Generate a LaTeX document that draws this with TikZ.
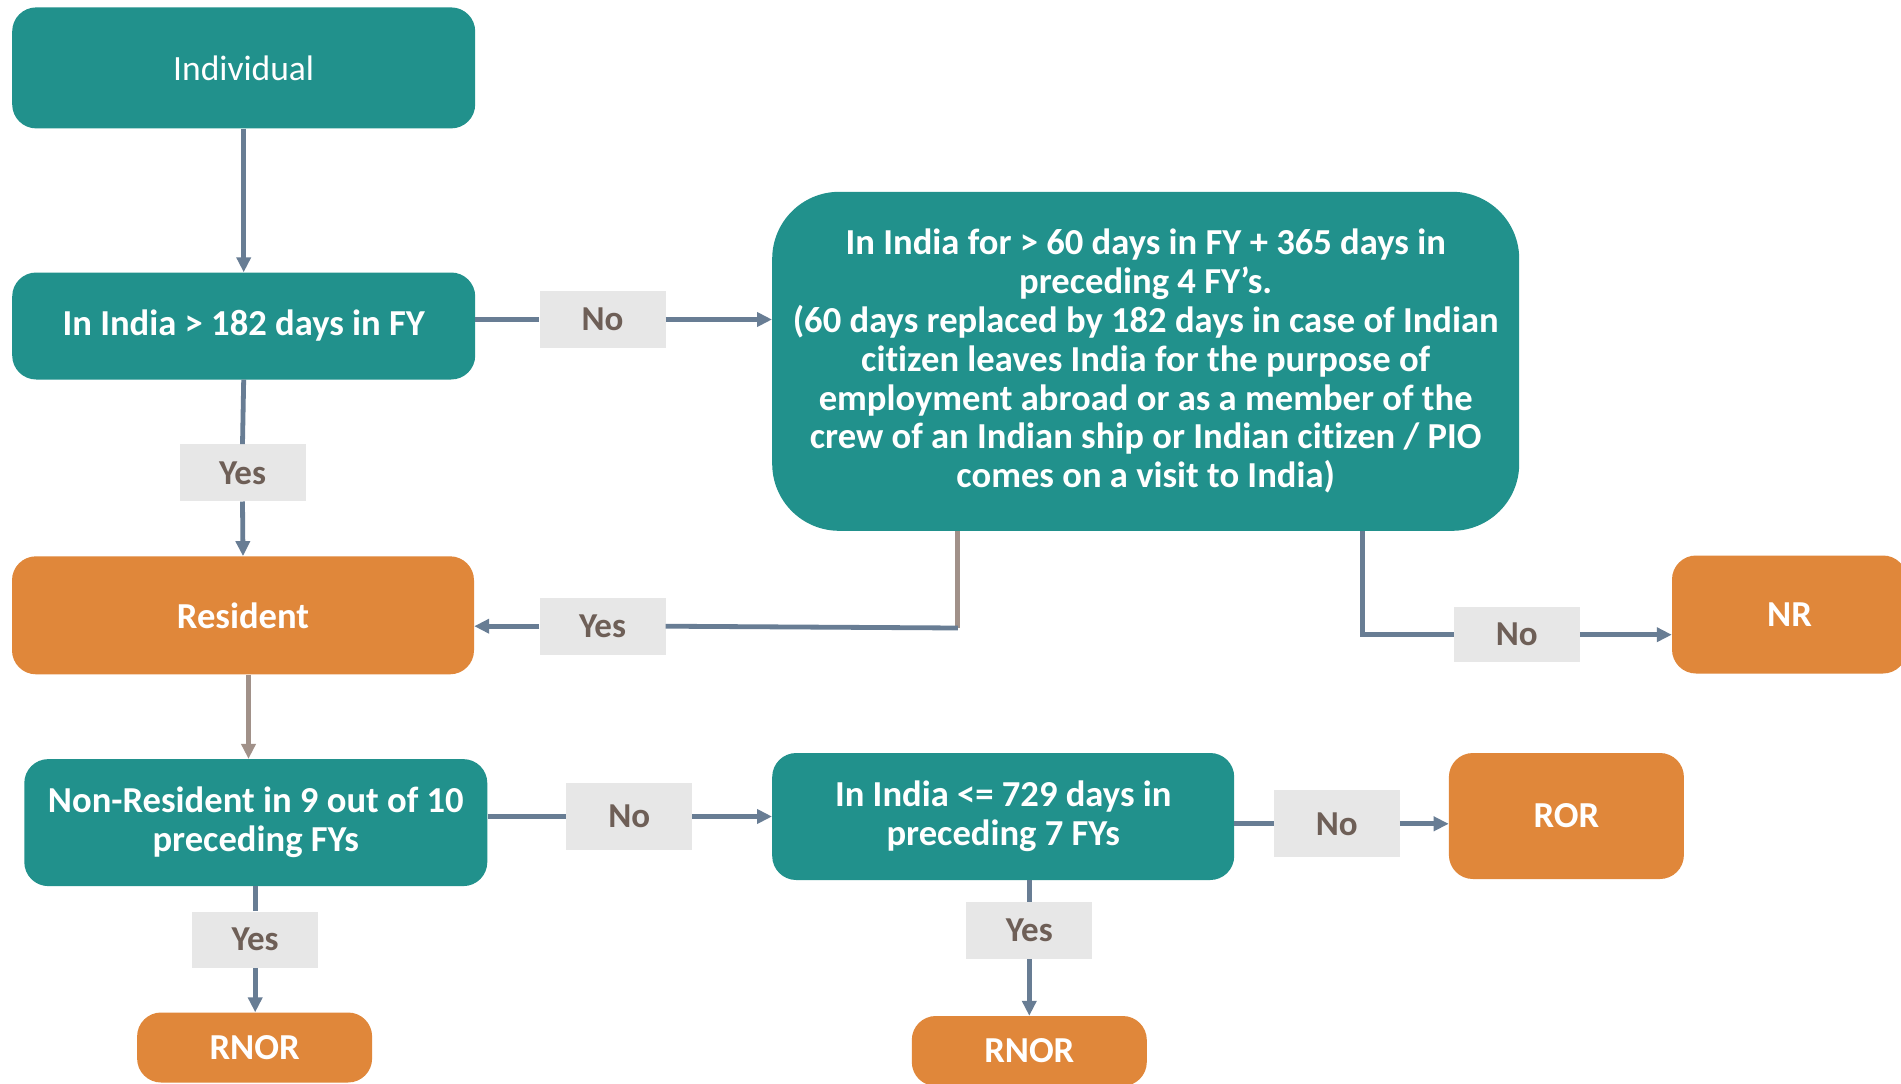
\documentclass[tikz,border=0pt]{standalone}
\usepackage{fontspec}
\setmainfont{Carlito}[Ligatures=NoCommon]
\usetikzlibrary{arrows.meta,calc}
\definecolor{teal1}{RGB}{33,145,140}
\definecolor{orng}{RGB}{224,135,58}
\definecolor{lblbg}{RGB}{231,231,231}
\definecolor{lbltx}{RGB}{110,95,87}
\definecolor{slate}{RGB}{104,125,148}
\definecolor{brn}{RGB}{161,145,137}
\tikzset{
  box/.style={draw=none, rounded corners=24pt, inner sep=0pt, align=center, text=white,
     font=\fontsize{36.6}{38.8}\selectfont\bfseries},
  tbox/.style={box, fill=teal1},
  obox/.style={box, fill=orng},
  lbl/.style={fill=lblbg, inner sep=0pt, minimum width=126pt, minimum height=57pt,
     text=lbltx, font=\fontsize{35}{38.8}\selectfont\bfseries},
  ln/.style={draw=slate, line width=4.8pt},
  lnb/.style={draw=brn, line width=4.8pt},
  arr/.style={ln, -{Triangle[length=15pt,width=14pt]}},
  arrb/.style={lnb, -{Triangle[length=15pt,width=14pt]}},
}
\begin{document}
\begin{tikzpicture}[x=1pt,y=-1pt]
\clip (0,0) rectangle (1901,1084);
\fill[white] (0,0) rectangle (1901,1084);

% nodes
\node[tbox, minimum width=463pt, minimum height=121pt, font=\fontsize{35.5}{38.8}\selectfont] (ind) at (243.7,67.9) {Individual};
\node[tbox, minimum width=463pt, minimum height=107pt] (q1) at (243.7,326) {In India > 182 days in FY};
\node[tbox, rounded corners=67pt, minimum width=747pt, minimum height=339pt] (big) at (1145.7,361.3)
  {In India for > 60 days in FY + 365 days in\\
   preceding 4 FY’s.\\
   (60 days replaced by 182 days in case of Indian\\
   citizen leaves India for the purpose of\\
   employment abroad or as a member of the\\
   crew of an Indian ship or Indian citizen / PIO\\
   comes on a visit to India)};
\node[obox, minimum width=462pt, minimum height=118pt] (res) at (243,615.3) {Resident};
\node[obox, minimum width=235pt, minimum height=118pt] (nr) at (1789.5,614.5) {NR};
\node[tbox, minimum width=463pt, minimum height=127pt] (nonres) at (255.8,822.6) {Non-Resident in 9 out of 10\\preceding FYs};
\node[tbox, minimum width=462pt, minimum height=127pt] (q3) at (1003.2,816.5) {In India <= 729 days in\\preceding 7 FYs};
\node[obox, minimum width=235pt, minimum height=126pt] (ror) at (1566.4,816) {ROR};
\node[obox, minimum width=235pt, minimum height=70pt] (rnor1) at (254.6,1047.5) {RNOR};
\node[obox, minimum width=235pt, minimum height=70pt] (rnor2) at (1029.3,1051) {RNOR};

% labels
\node[lbl] (no1) at (602.5,319.5) {No};
\node[lbl] (yes1) at (242.5,472.8) {Yes};
\node[lbl] (yes2) at (602.5,626.2) {Yes};
\node[lbl, minimum height=55pt] (no2) at (1516.7,634.7) {No};
\node[lbl, minimum height=67pt] (no3) at (629.2,816.5) {No};
\node[lbl, minimum height=67pt] (no4) at (1336.7,823.8) {No};
\node[lbl, minimum height=56pt] (yes3) at (255.2,939.6) {Yes};
\node[lbl] (yes4) at (1029.3,930.5) {Yes};

% helper coordinates
\coordinate (bY) at (957.8,628);
\coordinate (bN) at (1362.7,634.7);
\coordinate (rn) at (248.5,700);

% connectors
\draw[arr] (ind.south) -- (q1.north);
\draw[ln] (q1.east |- no1) -- (no1.west);
\draw[arr] (no1.east) -- (no1.east -| big.west);
\draw[ln] (q1.south) -- (yes1.north);
\draw[arr] (yes1.south) -- (res.north);
\draw[lnb] (big.south -| bY) -- (bY);
\draw[ln] (bY) -- (yes2.east);
\draw[arr] (yes2.west) -- (yes2.west -| res.east);
\draw[ln] (big.south -| bN) -- (bN) -- (no2.west);
\draw[arr] (no2.east) -- (no2.east -| nr.west);
\draw[arrb] (res.south -| rn) -- (nonres.north -| rn);
\draw[ln] (nonres.east |- no3) -- (no3.west);
\draw[arr] (no3.east) -- (no3.east -| q3.west);
\draw[ln] (q3.east |- no4) -- (no4.west);
\draw[arr] (no4.east) -- (no4.east -| ror.west);
\draw[ln] (nonres.south -| yes3) -- (yes3.north);
\draw[arr] (yes3.south) -- (yes3.south |- rnor1.north);
\draw[ln] (q3.south -| yes4) -- (yes4.north);
\draw[arr] (yes4.south) -- (yes4.south |- rnor2.north);
\end{tikzpicture}
\end{document}
